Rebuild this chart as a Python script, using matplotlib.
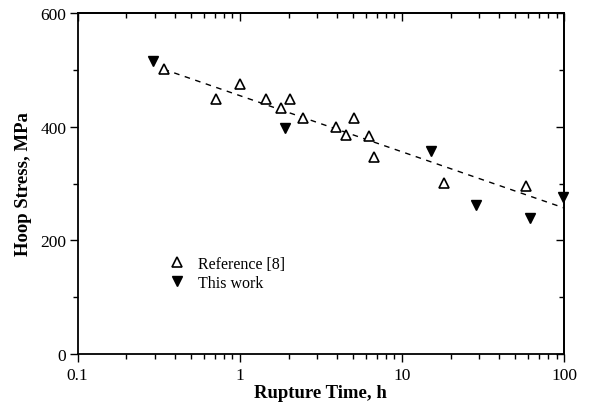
import matplotlib
matplotlib.use("Agg")
import matplotlib.pyplot as plt
from matplotlib.ticker import LogLocator, FixedLocator, NullFormatter, FuncFormatter

plt.rcParams['font.family'] = ['Liberation Serif', 'DejaVu Serif']

# Reference [8] data (open triangles)
ref_time = [0.34, 0.71, 1.0, 1.46, 1.81, 2.04, 2.46, 3.92, 4.5, 5.04, 6.3, 6.7, 18.1, 58.0]
ref_stress = [501, 449, 475, 449, 433, 449, 416, 400, 385, 415, 384, 347, 301, 296]

# This work (filled triangles)
work_time = [0.29, 1.9, 15.2, 28.5, 61.5, 99.0]
work_stress = [516, 397, 357, 263, 240, 277]

# dashed fit line endpoints
fit_time = [0.34, 100]
fit_stress = [501, 257]

fig = plt.figure(figsize=(5.89, 4.10), dpi=100)
ax = fig.add_axes([0.1316, 0.1341, 0.8260, 0.8318])

ax.plot(fit_time, fit_stress, 'k--', lw=1.0, dashes=(4, 4), zorder=1)
ax.plot(ref_time, ref_stress, linestyle='none', marker='^', ms=6.5,
        mfc='white', mec='black', mew=1.2, label='Reference [8]', zorder=3)
ax.plot(work_time, work_stress, linestyle='none', marker='v', ms=7,
        mfc='black', mec='black', label='This work', zorder=3, clip_on=False)

ax.set_xscale('log')
ax.set_xlim(0.1, 100)
ax.set_ylim(0, 600)
ax.set_yticks([0, 200, 400, 600])
ax.yaxis.set_minor_locator(FixedLocator(range(0, 601, 100)))
ax.xaxis.set_major_locator(FixedLocator([0.1, 1, 10, 100]))
ax.xaxis.set_minor_locator(LogLocator(base=10, subs=range(2, 10)))
ax.xaxis.set_minor_formatter(NullFormatter())
ax.xaxis.set_major_formatter(FuncFormatter(lambda v, p: '%g' % v))

for s in ax.spines.values():
    s.set_linewidth(1.3)

ax.tick_params(which='both', direction='out', top=False, right=False, labelsize=12.5, width=1.0)
ax.tick_params(which='major', length=6)
ax.tick_params(which='minor', length=3.5)
ax.tick_params(axis='x', pad=3)
ax.tick_params(axis='y', pad=2)

# inward ticks on top and right
ax_t = ax.secondary_xaxis('top')
ax_t.xaxis.set_major_locator(FixedLocator([0.1, 1, 10, 100]))
ax_t.xaxis.set_minor_locator(LogLocator(base=10, subs=range(2, 10)))
ax_t.tick_params(which='both', direction='in', labeltop=False, width=1.0)
ax_t.tick_params(which='major', length=6)
ax_t.tick_params(which='minor', length=3.5)
ax_t.xaxis.set_minor_formatter(NullFormatter())
ax_t.spines['top'].set_linewidth(1.3)
ax_r = ax.secondary_yaxis('right')
ax_r.set_yticks([0, 200, 400, 600])
ax_r.yaxis.set_minor_locator(FixedLocator(range(0, 601, 100)))
ax_r.tick_params(which='both', direction='in', labelright=False, width=1.0)
ax_r.tick_params(which='major', length=6)
ax_r.tick_params(which='minor', length=3.5)
ax_r.spines['right'].set_linewidth(1.3)

ax.set_xlabel('Rupture Time, h', fontsize=13.5, fontweight='bold', labelpad=1)
ax.set_ylabel('Hoop Stress, MPa', fontsize=13.5, fontweight='bold', labelpad=6)

ax.legend(loc='upper left', bbox_to_anchor=(0.158, 0.33), frameon=False,
          fontsize=11.5, handletextpad=0.8, labelspacing=0.2, handlelength=1.0)

fig.savefig('out.png', dpi=100)
